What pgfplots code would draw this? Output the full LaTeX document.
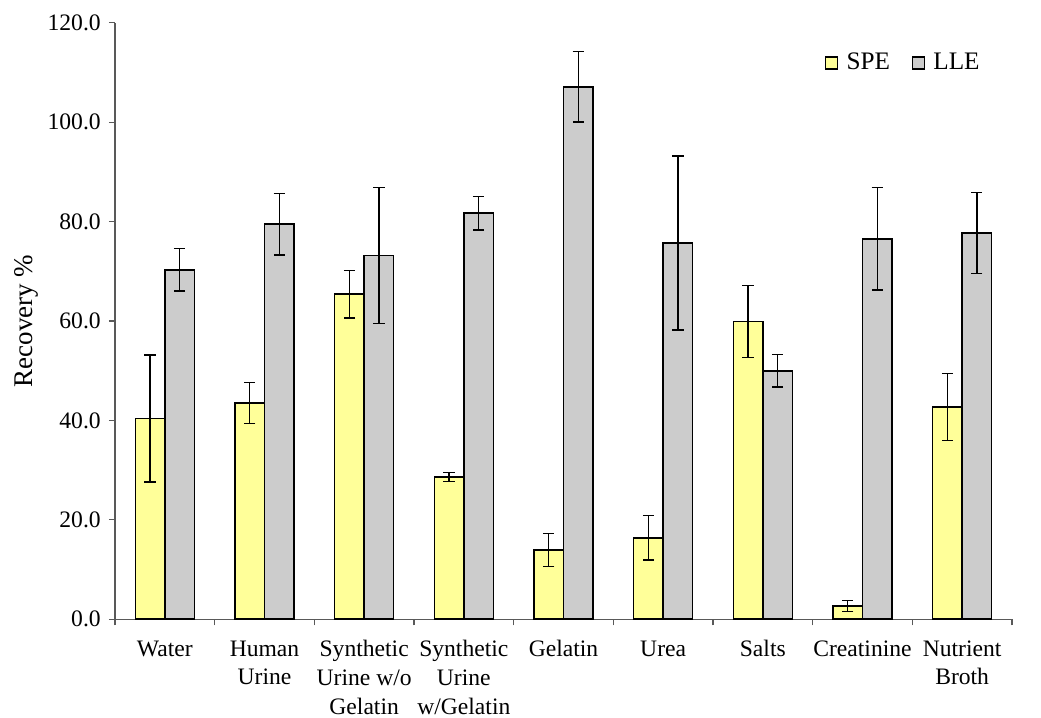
\documentclass[border=0pt]{standalone}
\usepackage{fontspec}
\setmainfont{Liberation Serif}
\usepackage{pgfplots}
\pgfplotsset{compat=1.18}
\definecolor{speY}{HTML}{FFFF99}
\definecolor{lleG}{HTML}{CCCCCC}
\begin{document}
\fontsize{11.8}{15}\selectfont
\begin{tikzpicture}
\begin{axis}[
  scale only axis,
  width=448.5pt, height=298.3pt,
  xmin=-0.5, xmax=8.5,
  ymin=0, ymax=120,
  ytick={0,20,...,120},
  /pgf/number format/assume math mode=true,
  yticklabel={\pgfmathprintnumber[fixed,fixed zerofill,precision=1]{\tick}},
  xtick={0,...,8},
  xticklabels={Water, Human\\Urine, Synthetic\\Urine w/o\\Gelatin, Synthetic\\Urine\\w/Gelatin, Gelatin, Urea, Salts, Creatinine, Nutrient\\Broth},
  xticklabel style={align=center, font=\fontsize{11.8}{14.4}\selectfont, yshift=-3.5pt},
  yticklabel style={font=\fontsize{11.8}{15}\selectfont},
  major x tick style={draw=none},
  minor xtick={-0.5,0.5,...,8.5},
  minor tick length=3pt,
  major tick length=3pt,
  tick align=outside,
  axis x line*=bottom,
  axis y line*=left,
  axis line style={black!65, line width=0.6pt},
  tick style={black!65, line width=0.6pt},
  every minor tick/.style={black!65, line width=0.6pt},
  ybar=0pt,
  bar width=0.296,
  ylabel={Recovery \%},
  ylabel style={at={(axis description cs:-0.0925,0.5)}, anchor=base, font=\fontsize{13.5}{16}\selectfont},
  legend columns=2,
  legend style={draw=none, fill=none, at={(0.9755,0.9325)}, anchor=east, font=\fontsize{12.6}{15}\selectfont,
    /tikz/every even column/.append style={column sep=9pt}},
  legend image code/.code={\draw[#1, line width=0.6pt] (0pt,-3pt) rectangle (6pt,3pt); \path (8pt,0pt);},
  error bars/error bar style={black, line width=0.7pt},
  error bars/error mark options={rotate=90, mark size=2.8pt, line width=0.7pt},
]
\addplot[fill=speY, draw=black, line width=0.8pt,
  error bars/.cd, y dir=both, y explicit]
 coordinates {
  (0,40.4) +- (0,12.8)
  (1,43.5) +- (0,4.1)
  (2,65.4) +- (0,4.8)
  (3,28.6) +- (0,0.9)
  (4,13.9) +- (0,3.3)
  (5,16.4) +- (0,4.5)
  (6,59.9) +- (0,7.3)
  (7,2.7) +- (0,1.1)
  (8,42.7) +- (0,6.7)
 };
\addlegendentry{SPE}
\addplot[fill=lleG, draw=black, line width=0.8pt,
  error bars/.cd, y dir=both, y explicit]
 coordinates {
  (0,70.3) +- (0,4.3)
  (1,79.5) +- (0,6.2)
  (2,73.2) +- (0,13.7)
  (3,81.7) +- (0,3.4)
  (4,107.1) +- (0,7.1)
  (5,75.7) +- (0,17.5)
  (6,50.0) +- (0,3.3)
  (7,76.5) +- (0,10.3)
  (8,77.7) +- (0,8.1)
 };
\addlegendentry{LLE}
\end{axis}
\pgfresetboundingbox
\path (-57.5pt,-49.35pt) rectangle (463pt,309.65pt);
\end{tikzpicture}
\end{document}
